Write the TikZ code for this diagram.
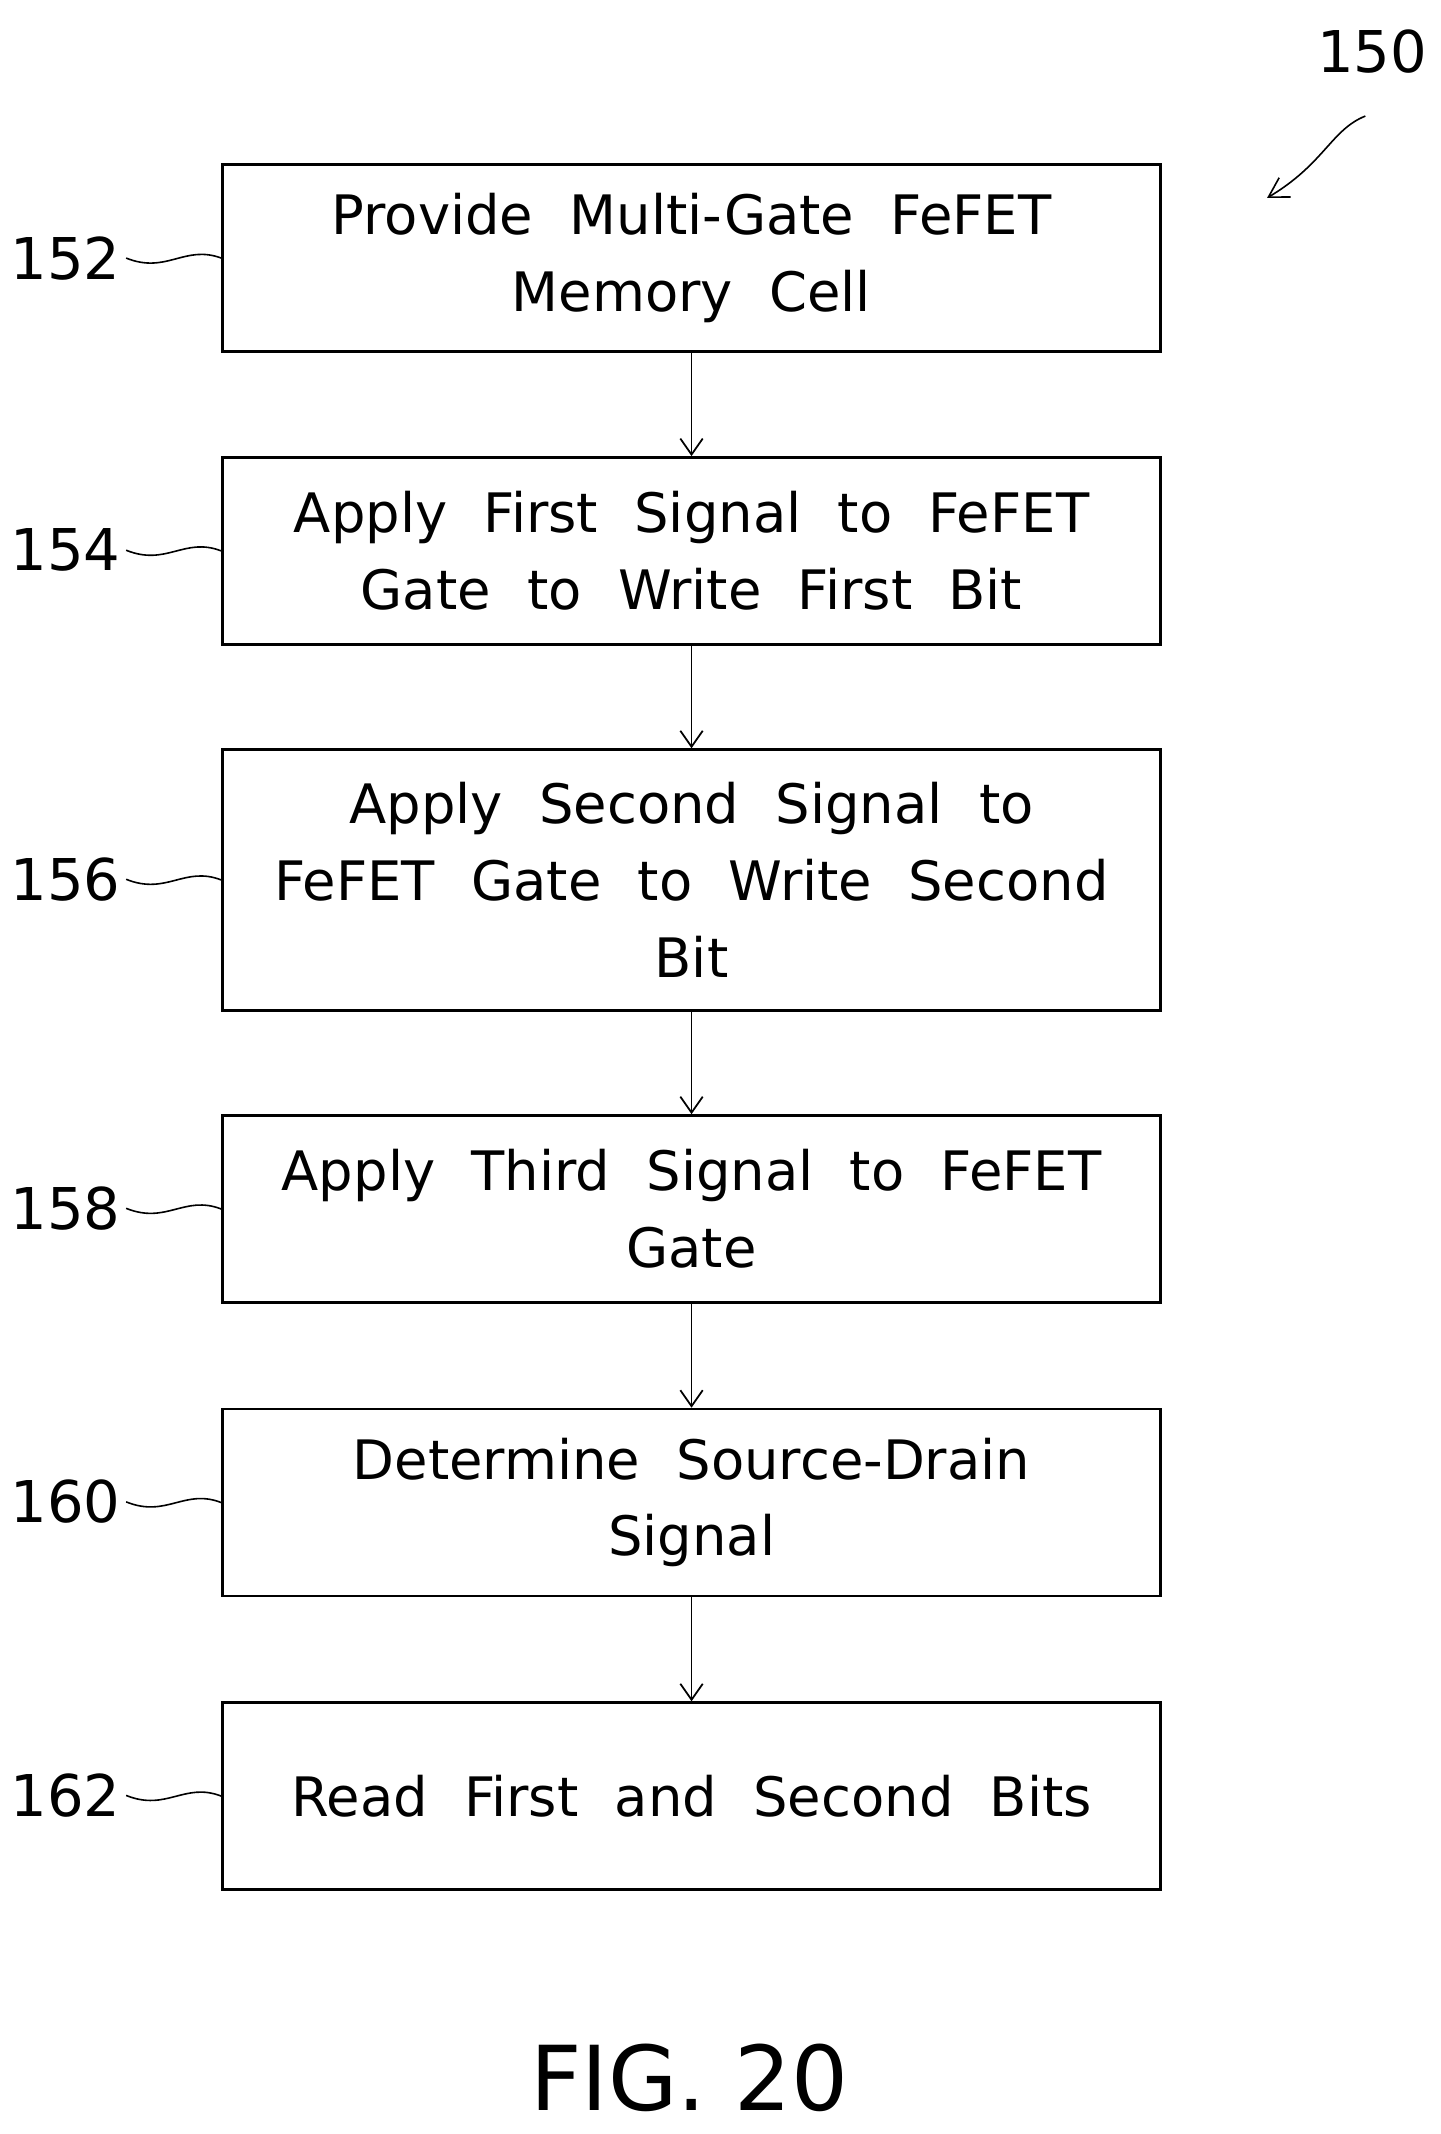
\documentclass[tikz,border=0pt]{standalone}
\usepackage{fontspec}
\setmainfont{DejaVu Sans}
\usetikzlibrary{arrows.meta}
\begin{document}
\begin{tikzpicture}[x=0.03cm,y=-0.03cm,
 box/.style={draw,line width=1.6pt,text width=19.5cm,minimum width=20.61cm,minimum height=4.11cm,align=center,font=\fontsize{34}{48}\selectfont,inner sep=0pt},
 lab/.style={font=\fontsize{36}{44}\selectfont},
 arr/.style={line width=1.1pt,-{Straight Barb[length=10pt,width=14pt]}},
 lead/.style={line width=1pt}]
\useasboundingbox (0,0) rectangle (1055,1563);
\node[box] (b1) at (506.5,189) {Provide\ \ Multi-Gate\ \ FeFET\\Memory\ \ Cell};
\node[box] (b2) at (506.5,403.5) {Apply\ \ First\ \ Signal\ \ to\ \ FeFET\\Gate\ \ to\ \ Write\ \ First\ \ Bit};
\node[box,minimum height=5.73cm] (b3) at (506.5,644.5) {Apply\ \ Second\ \ Signal\ \ to\\FeFET\ \ Gate\ \ to\ \ Write\ \ Second\\Bit};
\node[box] (b4) at (506.5,885.5) {Apply\ \ Third\ \ Signal\ \ to\ \ FeFET\\Gate};
\node[box] (b5) at (506.5,1100.5) {Determine\ \ Source-Drain\\Signal};
\node[box] (b6) at (506.5,1315.5) {Read\ \ First\ \ and\ \ Second\ \ Bits};
\foreach \a/\b in {b1/b2,b2/b3,b3/b4,b4/b5,b5/b6} \draw[arr] (\a.south) -- (\b.north);
\foreach \n/\y/\t in {b1/189/152,b2/403/154,b3/644/156,b4/885/158,b5/1100/160,b6/1315/162}{
 \node[lab] (l\t) at (48,\y) {\t};
 \draw[lead] (\n.west) .. controls (135,\y-10) and (122,\y+12) .. (l\t.east);
}
\node[lab] (l150) at (1005,38) {150};
\coordinate (t150) at (928,145);
\draw[line width=1pt,-{Straight Barb[length=12pt,width=14pt]}] (1000,85) .. controls (975,95) and (970,120) .. (t150);
\node[font=\fontsize{56}{64}\selectfont] (fig) at (505,1522) {FIG.\ 20};
\end{tikzpicture}
\end{document}
